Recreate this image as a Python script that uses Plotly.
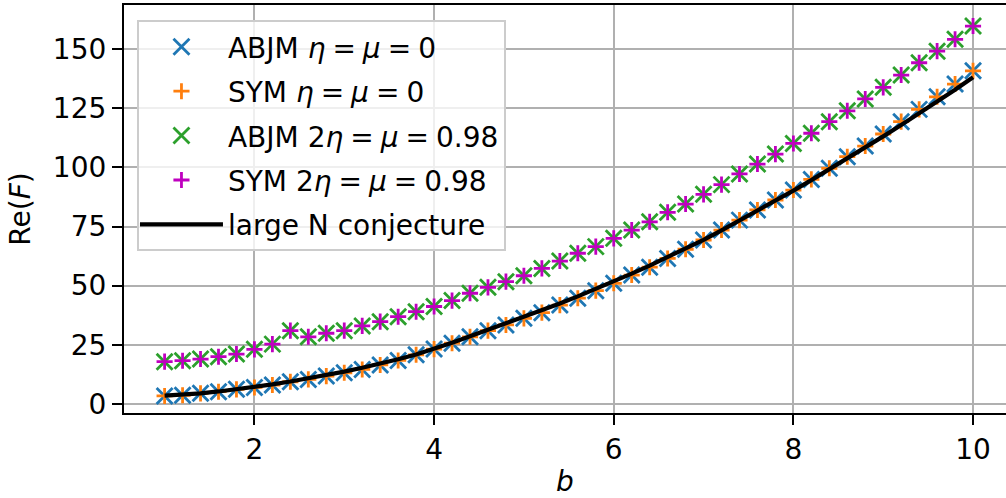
import plotly.graph_objects as go

b_vals = [1.0, 1.2, 1.4, 1.6, 1.8, 2.0, 2.2, 2.4, 2.6, 2.8,
          3.0, 3.2, 3.4, 3.6, 3.8, 4.0, 4.2, 4.4, 4.6, 4.8,
          5.0, 5.2, 5.4, 5.6, 5.8, 6.0, 6.2, 6.4, 6.6, 6.8,
          7.0, 7.2, 7.4, 7.6, 7.8, 8.0, 8.2, 8.4, 8.6, 8.8,
          9.0, 9.2, 9.4, 9.6, 9.8, 10.0]

abjm_0 = [3.4, 3.7, 4.5, 5.2, 6.2, 7.0, 8.0, 9.4, 10.4, 11.8,
          13.2, 14.6, 16.5, 18.4, 20.8, 23.2, 25.7, 28.4, 31.0, 33.4,
          36.2, 38.6, 41.8, 44.7, 47.9, 51.0, 54.5, 57.8, 61.5, 65.4,
          69.3, 73.5, 77.7, 82.0, 86.2, 90.4, 94.9, 99.6, 104.5, 109.0,
          114.1, 119.3, 124.5, 129.8, 135.2, 140.8]

sym_0 = [3.4, 3.7, 4.5, 5.2, 6.2, 7.0, 8.0, 9.4, 10.4, 11.8,
         13.2, 14.6, 16.5, 18.4, 20.8, 23.2, 25.7, 28.4, 31.0, 33.4,
         36.2, 38.6, 41.8, 44.7, 47.9, 51.0, 54.5, 57.8, 61.5, 65.4,
         69.3, 73.5, 77.7, 82.0, 86.2, 90.4, 94.9, 99.6, 104.5, 109.0,
         114.1, 119.3, 124.5, 129.8, 135.2, 140.8]

abjm_098 = [17.9, 18.3, 19.0, 20.0, 21.1, 23.1, 25.3, 31.0, 28.4, 29.9,
            31.0, 33.0, 34.8, 36.9, 39.0, 41.2, 43.7, 46.8, 49.3, 51.7,
            54.2, 57.3, 60.4, 63.7, 66.5, 70.0, 73.5, 77.0, 81.0, 84.5,
            88.6, 92.7, 97.2, 101.4, 105.6, 110.1, 114.4, 119.3, 123.9, 128.9,
            133.8, 139.0, 144.2, 149.1, 154.1, 159.7]

sym_098 = [17.9, 18.3, 19.0, 20.0, 21.1, 23.1, 25.3, 31.0, 28.4, 29.9,
           31.0, 33.0, 34.8, 36.9, 39.0, 41.2, 43.7, 46.8, 49.3, 51.7,
           54.2, 57.3, 60.4, 63.7, 66.5, 70.0, 73.5, 77.0, 81.0, 84.5,
           88.6, 92.7, 97.2, 101.4, 105.6, 110.1, 114.4, 119.3, 123.9, 128.9,
           133.8, 139.0, 144.2, 149.1, 154.1, 159.7]

conjecture = [3.5, 3.8, 4.5, 5.3, 6.2, 7.2, 8.3, 9.5, 10.8, 12.2,
              13.7, 15.3, 17.0, 18.9, 20.9, 23.3, 25.9, 28.6, 31.3, 34.0,
              36.8, 39.6, 42.5, 45.5, 48.6, 51.8, 55.1, 58.5, 62.0, 65.6,
              69.4, 73.4, 77.5, 81.7, 85.9, 90.2, 94.6, 99.1, 103.7, 108.4,
              113.1, 117.9, 122.8, 127.8, 132.8, 138.1]

x_ticks = [2, 4, 6, 8, 10]
y_ticks = [0, 25, 50, 75, 100, 125, 150]

FONT = "DejaVu Sans"
FS = 28
MW = 2.8
SP = "\u2005"  # math-like spacing around '='

def eq(*parts):
    return (SP + "=" + SP).join(parts)

fig = go.Figure()

fig.add_trace(go.Scatter(
    x=b_vals, y=abjm_0, mode="markers",
    name="ABJM " + eq("<i>η</i>", "<i>μ</i>", "0"),
    legendgroup="a", legendrank=1,
    marker=dict(symbol="x-thin", size=16, color="#1f77b4",
                line=dict(width=MW, color="#1f77b4"))))
fig.add_trace(go.Scatter(
    x=b_vals, y=sym_0, mode="markers",
    name="SYM " + eq("<i>η</i>", "<i>μ</i>", "0"),
    legendgroup="b", legendrank=2,
    marker=dict(symbol="cross-thin", size=11.5, color="#ff7f0e",
                line=dict(width=MW, color="#ff7f0e"))))
fig.add_trace(go.Scatter(
    x=b_vals, y=abjm_098, mode="markers",
    name="ABJM " + eq("2<i>η</i>", "<i>μ</i>", "0.98"),
    legendgroup="c", legendrank=3,
    marker=dict(symbol="x-thin", size=16, color="#2ca02c",
                line=dict(width=MW, color="#2ca02c"))))
fig.add_trace(go.Scatter(
    x=b_vals, y=sym_098, mode="markers",
    name="SYM " + eq("2<i>η</i>", "<i>μ</i>", "0.98"),
    legendgroup="d", legendrank=4,
    marker=dict(symbol="cross-thin", size=11.5, color="#bf00bf",
                line=dict(width=MW, color="#bf00bf"))))
fig.add_trace(go.Scatter(
    x=b_vals, y=conjecture, mode="lines", name="large N conjecture",
    legendgroup="e", legendrank=5,
    line=dict(color="black", width=4.2)))

fig.update_layout(
    width=1006, height=498,
    margin=dict(l=124, r=0, t=5, b=85),
    paper_bgcolor="white", plot_bgcolor="white",
    font=dict(family=FONT, size=FS, color="black"),
    legend=dict(
        x=0.0147, y=0.963, xanchor="left", yanchor="top",
        bgcolor="rgba(255,255,255,0.8)", bordercolor="#cccccc", borderwidth=2,
        font=dict(family=FONT, size=FS, color="black"),
        tracegroupgap=5, itemwidth=83, indentation=-4,
    ),
    xaxis=dict(
        range=[0.548, 10.367], tickvals=x_ticks, automargin=False,
        showgrid=True, gridcolor="#b0b0b0", gridwidth=2.2,
        showline=True, linecolor="black", linewidth=2.2, mirror=True,
        ticks="outside", ticklen=10, tickwidth=2.2, tickcolor="black",
        zeroline=False,
        title=dict(text="<i>b</i>", font=dict(family=FONT, size=FS), standoff=11),
    ),
    yaxis=dict(
        range=[-3.8, 168.6], tickvals=y_ticks, automargin=False,
        showgrid=True, gridcolor="#b0b0b0", gridwidth=2.2,
        showline=True, linecolor="black", linewidth=2.2, mirror=False,
        ticks="outside", ticklen=10, tickwidth=2.2, tickcolor="black",
        zeroline=False,
        title=dict(text="Re(<i>F</i>)", font=dict(family=FONT, size=FS), standoff=14),
    ),
)

fig.write_html(
    "out.html",
    config={"displayModeBar": False},
    post_script="document.body.style.margin='0';document.body.style.overflow='hidden';",
)
